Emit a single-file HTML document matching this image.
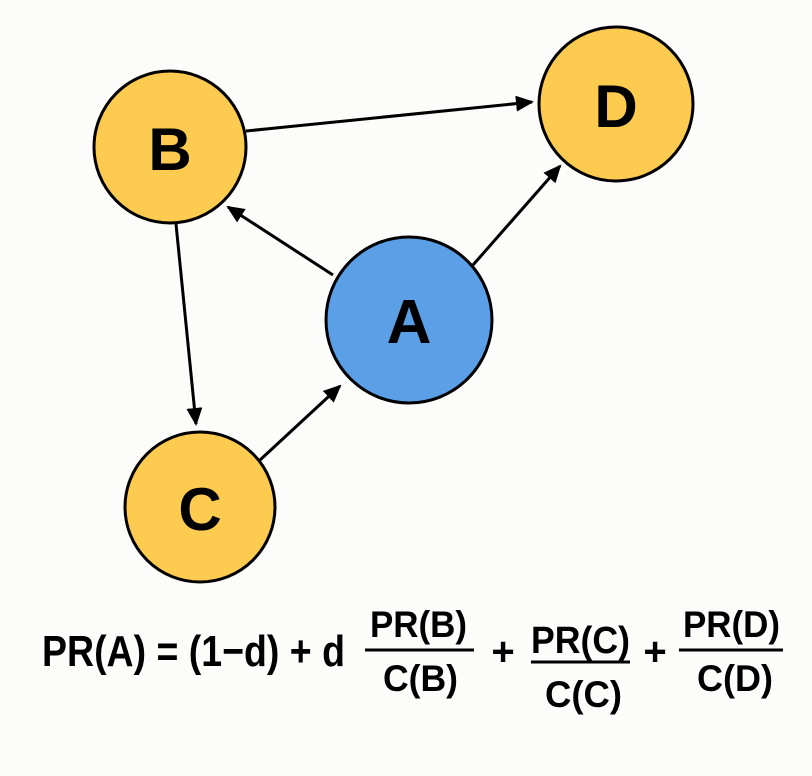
<!DOCTYPE html>
<html><head><meta charset="utf-8"><style>
html,body{margin:0;padding:0;background:#fcfcfa;}
svg{display:block;}
text{font-family:"Liberation Sans",sans-serif;font-weight:bold;fill:#000;}
</style></head><body>
<svg width="812" height="776" viewBox="0 0 812 776" xmlns="http://www.w3.org/2000/svg">
<defs>
<marker id="ar" markerWidth="18" markerHeight="16" refX="16" refY="8" orient="auto" markerUnits="userSpaceOnUse" viewBox="0 0 18 16">
<path d="M0,0 L18,8 L0,16 z" fill="#000"/>
</marker>
</defs>
<rect width="812" height="776" fill="#fcfcfa"/>
<g stroke="#000" stroke-width="3" fill="none">
<line x1="246" y1="131" x2="532" y2="102" marker-end="url(#ar)"/>
<line x1="333" y1="275" x2="228" y2="207" marker-end="url(#ar)"/>
<line x1="473" y1="265" x2="560" y2="166" marker-end="url(#ar)"/>
<line x1="176" y1="224" x2="196" y2="424" marker-end="url(#ar)"/>
<line x1="260" y1="460" x2="340" y2="386" marker-end="url(#ar)"/>
</g>
<g stroke="#000" stroke-width="3">
<circle cx="170" cy="147" r="76" fill="#fdcb4f"/>
<circle cx="616" cy="104" r="77" fill="#fdcb4f"/>
<circle cx="409" cy="320" r="83" fill="#5b9fe6"/>
<circle cx="200" cy="507" r="75" fill="#fdcb4f"/>
</g>
<text x="170" y="170" font-size="60" text-anchor="middle">B</text>
<text x="616" y="127" font-size="60" text-anchor="middle">D</text>
<text x="409" y="343" font-size="62" text-anchor="middle">A</text>
<text x="200" y="530" font-size="60" text-anchor="middle">C</text>
<text x="42" y="666" font-size="44" textLength="303" lengthAdjust="spacingAndGlyphs">PR(A) = (1−d) + d</text>
<g stroke="#000" stroke-width="3">
<line x1="365" y1="650" x2="474" y2="650"/>
<line x1="531" y1="662" x2="630" y2="662"/>
<line x1="679" y1="650" x2="783" y2="650"/>
</g>
<text x="370" y="637" font-size="37" textLength="97" lengthAdjust="spacingAndGlyphs">PR(B)</text>
<text x="383" y="691" font-size="37" textLength="75" lengthAdjust="spacingAndGlyphs">C(B)</text>
<text x="531" y="653" font-size="38" textLength="99" lengthAdjust="spacingAndGlyphs">PR(C)</text>
<text x="545" y="707" font-size="37" textLength="77" lengthAdjust="spacingAndGlyphs">C(C)</text>
<text x="683" y="637" font-size="37" textLength="97" lengthAdjust="spacingAndGlyphs">PR(D)</text>
<text x="697" y="691" font-size="37" textLength="76" lengthAdjust="spacingAndGlyphs">C(D)</text>
<text x="503" y="665" font-size="40" text-anchor="middle">+</text>
<text x="655" y="665" font-size="40" text-anchor="middle">+</text>
</svg>
</body></html>
